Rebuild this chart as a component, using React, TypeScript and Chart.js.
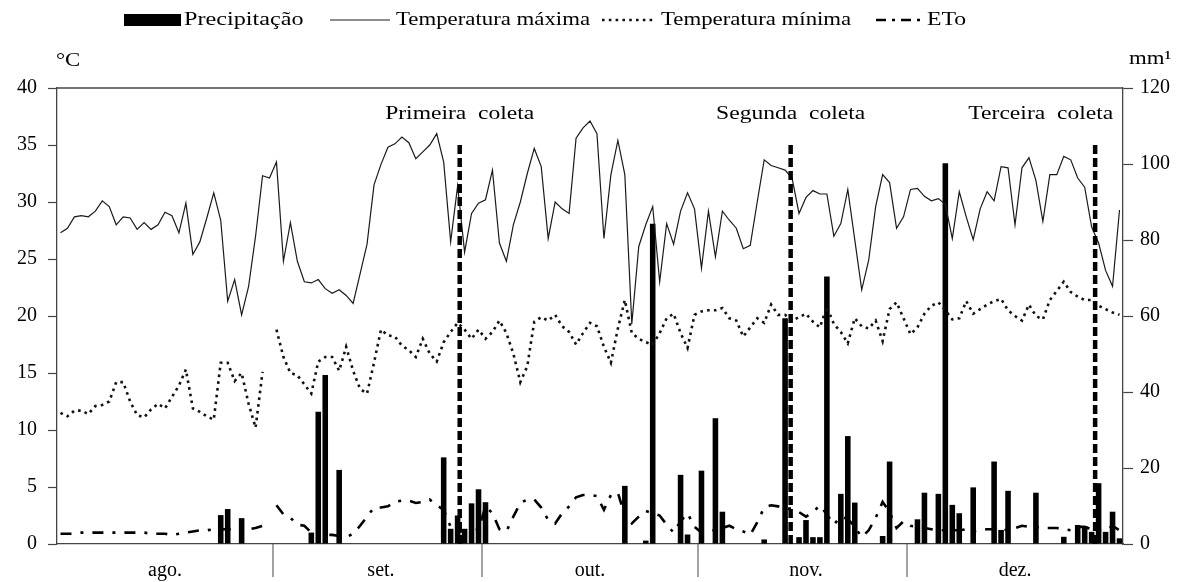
import React, { useEffect, useRef } from 'react';
import { Chart, registerables } from 'chart.js';

Chart.register(...registerables);

// ---------- categories ----------
const monthNames = ['ago.', 'set.', 'out.', 'nov.', 'dez.'];
const monthNumbers = [8, 9, 10, 11, 12];
const monthLengths = [31, 30, 31, 30, 31];
const monthLabelDay = 16; // month name sits under this day

// ---------- Temperatura máxima (°C) ----------
const tmaxAgo = [27.3, 27.7, 28.7, 28.8, 28.7, 29.2, 30.1, 29.6, 28.0, 28.7, 28.6, 27.6, 28.2, 27.6, 28.0, 29.1, 28.8, 27.3, 29.9, 25.4, 26.5, 28.6, 30.8, 28.4, 21.3, 23.2, 20.1, 22.6, 27.0, 32.3, 32.1];
const tmaxSet = [33.5, 24.8, 28.2, 24.8, 23.0, 22.9, 23.2, 22.4, 22.0, 22.3, 21.8, 21.1, 23.7, 26.3, 31.5, 33.3, 34.8, 35.1, 35.7, 35.2, 33.8, 34.4, 35.0, 36.0, 33.5, 26.5, 31.4, 25.6, 29.0, 29.9];
const tmaxOut = [30.2, 32.8, 26.4, 24.8, 28.0, 30.0, 32.5, 34.7, 33.1, 26.8, 30.0, 29.4, 29.0, 35.6, 36.5, 37.1, 36.0, 26.8, 32.4, 35.4, 32.4, 19.3, 26.1, 28.0, 29.6, 23.0, 28.1, 26.3, 29.2, 30.8, 29.4];
const tmaxNov = [24.2, 29.2, 25.2, 29.2, 28.4, 27.7, 25.9, 26.2, 30.0, 33.7, 33.2, 33.0, 32.8, 32.1, 29.0, 30.4, 31.0, 30.7, 30.7, 27.0, 28.1, 31.1, 26.7, 22.3, 24.9, 29.6, 32.4, 31.7, 27.7, 28.7];
const tmaxDez = [31.1, 31.2, 30.5, 30.1, 30.3, 29.8, 26.8, 30.9, 28.7, 26.7, 29.4, 30.9, 30.1, 33.1, 33.0, 28.0, 33.0, 33.9, 31.9, 28.3, 32.4, 32.4, 34.0, 33.7, 32.1, 31.3, 27.8, 26.4, 24.0, 22.6, 29.3];

// ---------- Temperatura mínima (°C) ----------
const tminAgo = [11.5, 11.2, 11.7, 11.7, 11.4, 12.1, 12.2, 12.5, 14.2, 14.2, 12.5, 11.3, 11.1, 11.8, 12.3, 11.9, 12.9, 13.9, 15.3, 11.9, 11.6, 11.2, 10.9, 15.9, 15.9, 14.3, 15.0, 12.3, 10.2, 15.1, null];
const tminSet = [18.8, 16.4, 15.0, 14.8, 14.0, 13.2, 16.0, 16.4, 16.4, 15.2, 17.3, 15.2, 13.6, 13.2, 15.9, 18.8, 18.3, 18.2, 17.4, 17.0, 16.4, 18.0, 16.7, 16.0, 17.7, 18.6, 19.4, 18.8, 18.0, 18.8];
const tminOut = [18.0, 18.6, 19.6, 18.5, 16.7, 14.2, 15.6, 19.5, 19.9, 19.6, 20.1, 19.1, 18.6, 17.5, 18.5, 19.4, 19.1, 17.3, 15.9, 18.9, 21.4, 18.5, 18.0, 17.7, 17.5, 18.5, 19.8, 20.2, 18.5, 17.2, 20.1];
const tminNov = [20.4, 20.5, 20.5, 20.7, 19.8, 19.6, 18.2, 19.0, 19.8, 19.4, 21.0, 20.1, 20.1, 19.6, 19.9, 20.2, 19.5, 19.0, 20.8, 19.3, 18.6, 17.6, 19.8, 19.1, 18.9, 19.6, 17.8, 20.6, 21.2, 19.8];
const tminDez = [18.4, 19.0, 20.2, 20.9, 21.2, 20.5, 19.7, 19.8, 21.3, 20.2, 20.6, 21.0, 21.3, 21.5, 20.5, 20.0, 19.6, 21.0, 20.0, 19.7, 21.4, 22.2, 23.0, 22.1, 21.7, 21.4, 21.4, 20.9, 20.6, 20.3, 20.1];

// ---------- ETo (read on the left scale) ----------
const etoAgo = [0.9, 0.9, 0.9, 1.0, 1.0, 1.0, 1.0, 1.0, 1.0, 1.0, 1.0, 1.0, 1.0, 0.9, 0.9, 0.9, 0.8, 0.9, 1.0, 1.1, 1.2, 1.2, 1.3, 1.3, 1.3, 1.2, 1.2, 1.3, 1.4, 1.6, null];
const etoSet = [3.4, 2.6, 2.3, 1.7, 1.6, 1.0, 0.9, 0.8, 0.8, 0.7, 0.6, 0.9, 1.6, 2.4, 3.2, 3.2, 3.3, 3.7, 3.8, 3.8, 3.6, 3.7, 3.9, 3.4, 3.0, 1.5, 1.0, 1.2, 1.1, 1.3];
const etoOut = [3.3, 2.7, 1.3, 1.1, 2.4, 3.6, 3.9, 3.9, 3.2, 2.1, 1.8, 2.7, 3.3, 4.1, 4.3, 4.3, 4.2, 3.0, 4.3, 4.5, 2.5, 1.8, 2.4, 2.9, 2.7, 2.5, 1.7, 1.0, 2.0, 2.7, 1.5];
const etoNov = [1.0, 1.2, 1.2, 1.4, 1.6, 1.3, 1.1, 0.8, 1.9, 3.2, 3.4, 3.3, 3.1, 3.1, 2.8, 2.4, 2.8, 3.4, 2.6, 1.7, 2.4, 2.2, 1.5, 0.6, 1.2, 2.3, 3.7, 2.8, 1.4, 2.0];
const etoDez = [1.6, 1.5, 1.4, 1.3, 1.2, 1.2, 1.2, 1.2, 1.3, 1.1, 1.2, 1.3, 1.3, 1.1, 1.3, 1.4, 1.6, 1.5, 1.5, 1.4, 1.4, 1.4, 1.3, 1.2, 1.5, 1.5, 1.3, 1.2, 1.2, 1.6, 1.2];

// ---------- Precipitação (mm) ----------
const precAgo = [0, 0, 0, 0, 0, 0, 0, 0, 0, 0, 0, 0, 0, 0, 0, 0, 0, 0, 0, 0, 0, 0, 0, 7.6, 9.2, 0, 6.8, 0, 0, 0, 0];
const precSet = [0, 0, 0, 0, 0, 3.0, 34.8, 44.5, 0, 19.5, 0, 0, 0, 0, 0, 0, 0, 0, 0, 0, 0, 0, 0, 0, 22.8, 4.0, 7.5, 4.0, 10.7, 14.4];
const precOut = [11.0, 0, 0, 0, 0, 0, 0, 0, 0, 0, 0, 0, 0, 0, 0, 0, 0, 0, 0, 0, 15.3, 0, 0, 0.9, 84.3, 0, 0, 0, 18.2, 2.5, 0];
const precNov = [19.3, 0, 33.1, 8.5, 0, 0, 0, 0, 0, 1.2, 0, 0, 59.4, 0, 1.8, 6.3, 1.8, 1.8, 70.4, 0, 13.2, 28.4, 10.9, 0, 0, 0, 2.1, 21.7, 0, 0];
const precDez = [0, 6.5, 13.5, 0, 13.2, 100.2, 10.3, 8.1, 0, 14.9, 0, 0, 21.7, 3.7, 14.0, 0, 0, 0, 13.5, 0, 0, 0, 1.9, 0, 5.0, 4.7, 3.2, 16.0, 3.2, 8.5, 1.5];

// ---------- collection marks (day index positions) ----------
const collectionDays = [57.3, 104.8, 148.5];
const collectionLabels = ['Primeira  coleta', 'Segunda  coleta', 'Terceira  coleta'];
const collectionLabelDays = [57.3, 104.8, 140.7];
const collectionTop = 35;
const collectionLabelLevel = 37.7;

// ---------- axes ----------
const tempMin = 0;
const tempMax = 40;
const tempStep = 5;
const rainMin = 0;
const rainMax = 120;
const rainStep = 20;

const seriesLabels = ['Precipitação', 'Temperatura máxima', 'Temperatura mínima', 'ETo'];
const leftUnit = '°C';
const rightUnit = 'mm¹';

// ---------- assembled ----------
const tmax = [...tmaxAgo, ...tmaxSet, ...tmaxOut, ...tmaxNov, ...tmaxDez];
const tmin = [...tminAgo, ...tminSet, ...tminOut, ...tminNov, ...tminDez];
const eto = [...etoAgo, ...etoSet, ...etoOut, ...etoNov, ...etoDez];
const prec = [...precAgo, ...precSet, ...precOut, ...precNov, ...precDez];

const monthStarts: number[] = [];
const dayLabels: string[] = [];
monthLengths.forEach((len, m) => {
  monthStarts.push(dayLabels.length);
  for (let d = 1; d <= len; d++) dayLabels.push(`${d}/${monthNumbers[m]}`);
});

const SERIF = '"Liberation Serif", "Times New Roman", serif';
const AXIS = '#454545';

function stretchedText(ctx: CanvasRenderingContext2D, text: string, x: number, y: number, size: number, sx: number, align: 'left' | 'center' | 'right') {
  ctx.save();
  ctx.font = `${size}px ${SERIF}`;
  ctx.textBaseline = 'middle';
  ctx.textAlign = 'left';
  const w = ctx.measureText(text).width * sx;
  let left = x;
  if (align === 'center') left = x - w / 2;
  if (align === 'right') left = x - w;
  ctx.translate(left, y);
  ctx.scale(sx, 1);
  ctx.fillStyle = '#000';
  ctx.fillText(text, 0, 0);
  ctx.restore();
}

const decorPlugin = {
  id: 'decor',
  afterDatasetsDraw(chart: any) {
    const { ctx, chartArea: a, scales } = chart;
    const x = scales.x;
    const y = scales.y;
    ctx.save();
    ctx.beginPath();
    ctx.rect(a.left, a.top, a.right - a.left, a.bottom - a.top + 2);
    ctx.clip();
    ctx.strokeStyle = '#000';
    ctx.lineWidth = 4.5;
    ctx.setLineDash([9, 4]);
    collectionDays.forEach((d) => {
      const px = x.getPixelForValue(d);
      ctx.beginPath();
      ctx.moveTo(px, y.getPixelForValue(collectionTop));
      ctx.lineTo(px, y.getPixelForValue(0));
      ctx.stroke();
    });
    ctx.restore();
  },
  afterDraw(chart: any) {
    const { ctx, chartArea: a, scales } = chart;
    const x = scales.x;
    const y = scales.y;
    ctx.save();
    // top frame line
    ctx.strokeStyle = AXIS;
    ctx.lineWidth = 1.3;
    ctx.beginPath();
    ctx.moveTo(a.left, a.top);
    ctx.lineTo(a.right, a.top);
    ctx.stroke();
    // month separators
    ctx.lineWidth = 1;
    monthStarts.slice(1).forEach((s) => {
      const px = (x.getPixelForValue(s) + x.getPixelForValue(s - 1)) / 2;
      ctx.beginPath();
      ctx.moveTo(px, a.bottom);
      ctx.lineTo(px, a.bottom + 33);
      ctx.stroke();
    });
    // collection labels
    collectionLabels.forEach((t, i) => {
      stretchedText(ctx, t, x.getPixelForValue(collectionLabelDays[i]), y.getPixelForValue(collectionLabelLevel), 19, 1.24, 'center');
    });
    // units
    stretchedText(ctx, leftUnit, a.left - 1, 61, 19, 1.2, 'left');
    stretchedText(ctx, rightUnit, a.right + 6, 59, 19, 1.2, 'left');

    // legend
    const ly = 20;
    ctx.fillStyle = '#000';
    ctx.fillRect(124, ly - 6, 57, 12);
    stretchedText(ctx, seriesLabels[0], 184, ly, 19.5, 1.24, 'left');

    ctx.strokeStyle = '#1a1a1a';
    ctx.lineWidth = 1.2;
    ctx.setLineDash([]);
    ctx.beginPath();
    ctx.moveTo(330, ly);
    ctx.lineTo(390, ly);
    ctx.stroke();
    stretchedText(ctx, seriesLabels[1], 396, ly, 19, 1.2, 'left');

    ctx.strokeStyle = '#111';
    ctx.lineWidth = 2.6;
    ctx.setLineDash([2.6, 4.2]);
    ctx.beginPath();
    ctx.moveTo(602, ly);
    ctx.lineTo(656, ly);
    ctx.stroke();
    stretchedText(ctx, seriesLabels[2], 661, ly, 19, 1.2, 'left');

    ctx.strokeStyle = '#000';
    ctx.setLineDash([10, 6, 3, 6]);
    ctx.beginPath();
    ctx.moveTo(876, ly);
    ctx.lineTo(921, ly);
    ctx.stroke();
    stretchedText(ctx, seriesLabels[3], 927, ly, 19, 1.25, 'left');
    ctx.restore();
  },
};

export default function App() {
  const canvasRef = useRef<HTMLCanvasElement | null>(null);

  useEffect(() => {
    if (!canvasRef.current) return;
    const tickFont = { family: SERIF, size: 20 };
    const chart = new Chart(canvasRef.current, {
      type: 'bar',
      data: {
        labels: dayLabels,
        datasets: [
          {
            type: 'line',
            label: seriesLabels[1],
            data: tmax,
            yAxisID: 'y',
            borderColor: '#1a1a1a',
            borderWidth: 1.2,
            pointRadius: 0,
            tension: 0,
            fill: false,
          },
          {
            type: 'line',
            label: seriesLabels[2],
            data: tmin,
            yAxisID: 'y',
            borderColor: '#111',
            borderWidth: 2.6,
            borderDash: [2.6, 4.2],
            borderCapStyle: 'butt',
            pointRadius: 0,
            tension: 0,
            spanGaps: false,
            fill: false,
          },
          {
            type: 'line',
            label: seriesLabels[3],
            data: eto,
            yAxisID: 'y',
            borderColor: '#000',
            borderWidth: 2.6,
            borderDash: [11, 9, 3, 9],
            pointRadius: 0,
            tension: 0,
            spanGaps: false,
            fill: false,
          },
          {
            type: 'bar',
            label: seriesLabels[0],
            data: prec,
            yAxisID: 'y1',
            backgroundColor: '#000',
            borderWidth: 0,
            barPercentage: 0.8,
            categoryPercentage: 1.0,
          },
        ],
      } as any,
      options: {
        responsive: false,
        animation: false,
        events: [],
        layout: { padding: { top: 88, left: 0, right: 0, bottom: 0 } },
        plugins: {
          legend: { display: false },
          tooltip: { enabled: false },
          title: { display: false },
        },
        scales: {
          x: {
            type: 'category',
            offset: true,
            grid: { display: false, drawTicks: false },
            border: { display: true, color: AXIS, width: 1.3 },
            ticks: {
              autoSkip: false,
              maxRotation: 0,
              minRotation: 0,
              padding: 15,
              color: '#000',
              font: tickFont,
              callback: (_v: any, index: number) => {
                const m = monthStarts.findIndex((s) => s + monthLabelDay - 1 === index);
                return m >= 0 ? monthNames[m] : '';
              },
            },
            afterFit: (s: any) => {
              s.height = 38;
            },
          },
          y: {
            type: 'linear',
            position: 'left',
            min: tempMin,
            max: tempMax,
            ticks: { stepSize: tempStep, padding: 11, color: '#000', font: tickFont },
            grid: { drawOnChartArea: false, tickLength: 9, tickColor: AXIS, tickWidth: 1.2 },
            border: { display: true, color: AXIS, width: 1.3 },
            afterFit: (s: any) => {
              s.width = 57;
            },
          },
          y1: {
            type: 'linear',
            position: 'right',
            min: rainMin,
            max: rainMax,
            ticks: { stepSize: rainStep, padding: 7, color: '#000', font: tickFont },
            grid: { drawOnChartArea: false, tickLength: 10, tickColor: AXIS, tickWidth: 1.2 },
            border: { display: true, color: AXIS, width: 1.3 },
            afterFit: (s: any) => {
              s.width = 62;
            },
          },
        },
      } as any,
      plugins: [decorPlugin as any],
    });
    return () => chart.destroy();
  }, []);

  return (
    <div style={{ position: 'fixed', left: 0, top: 0, width: 1185, height: 582, background: '#fff' }}>
      <canvas ref={canvasRef} width={1185} height={582} style={{ width: 1185, height: 582, display: 'block' }} />
    </div>
  );
}
